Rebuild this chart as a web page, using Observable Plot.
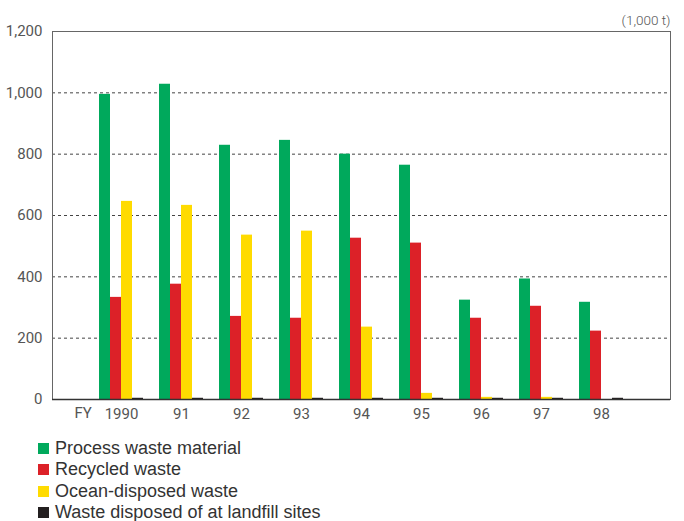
<!DOCTYPE html>
<html>
<head>
<meta charset="utf-8">
<script src="https://cdn.jsdelivr.net/npm/d3@7"></script>
<script src="https://cdn.jsdelivr.net/npm/@observablehq/plot@0.6"></script>
<style>
  html, body { margin: 0; padding: 0; background: #fff; }
  #chart { width: 684px; }
  .legend { margin: 8px 0 0 38px; font-family: "Liberation Sans", Arial, sans-serif; font-size: 18px; color: #333; }
  .legend div { height: 21.3px; display: flex; align-items: center; }
  .legend span.sw { width: 11px; height: 11px; margin-right: 6px; display: inline-block; flex: none; }
  .legend span.lb { line-height: 15px; }
</style>
</head>
<body>
<div id="chart"></div>
<script>
// Fiscal years (tick labels) and the four waste streams, in 1,000 t
const years = ["1990", "91", "92", "93", "94", "95", "96", "97", "98"];
const seriesNames = ["Process waste material", "Recycled waste", "Ocean-disposed waste", "Waste disposed of at landfill sites"];
const seriesColors = ["#00a95c", "#dc2128", "#ffdb00", "#231f20"];
const processWaste = [995, 1028, 829, 845, 800, 764, 324, 393, 317];
const recycledWaste = [333, 376, 271, 265, 526, 510, 265, 304, 223];
const oceanDisposed = [646, 633, 536, 549, 236, 20, 7, 7, 0];
const landfill = [4, 4, 4, 4, 4, 4, 4, 4, 4];
const yTicks = [0, 200, 400, 600, 800, 1000, 1200];

const seriesValues = [processWaste, recycledWaste, oceanDisposed, landfill];
const rows = seriesValues.map((vals, i) =>
  years.map((year, j) => ({year, value: vals[j], series: seriesNames[i]}))
);

const font = "Roboto, 'Liberation Sans', sans-serif";
const barW = 11;

const chart = Plot.plot({
  width: 684,
  height: 430,
  marginTop: 31,
  marginBottom: 31,
  marginLeft: 52,
  marginRight: 14,
  style: {fontFamily: font, fontSize: "15px", color: "#555", background: "#fff"},
  x: {domain: years, paddingInner: 0.267, paddingOuter: 0.783, label: null, axis: null},
  y: {domain: [0, 1200], label: null, axis: null},
  marks: [
    // horizontal dashed gridlines
    Plot.ruleY(yTicks.filter(d => d > 0 && d < 1200), {stroke: "#444", strokeDasharray: "3,3", strokeWidth: 1}),
    // one bar series per waste stream, side by side within each year band
    ...rows.map((data, i) =>
      Plot.barY(data, {
        x: "year", y: "value", fill: seriesColors[i],
        insetLeft: i * barW, insetRight: (3 - i) * barW
      })
    ),
    // surrounding box
    Plot.frame({stroke: "#666", strokeWidth: 1}),
    Plot.ruleX([0], {frameAnchor: "left", stroke: "#333", strokeWidth: 1.5}),
    Plot.ruleY([0], {stroke: "#333", strokeWidth: 1.5}),
    // y axis labels
    Plot.axisY(yTicks, {tickSize: 0, tickPadding: 10, tickFormat: d3.format(","), fill: "#555", fontSize: 15, label: null}),
    // x axis labels
    Plot.axisX({tickSize: 0, tickPadding: 9, fill: "#555", fontSize: 15, label: null}),
    // "FY" label to the left of the first year
    Plot.text(["FY"], {frameAnchor: "bottom-left", dx: 22, dy: 18, fill: "#555", fontSize: 15}),
    // unit note
    Plot.text(["(1,000 t)"], {frameAnchor: "top-right", dy: -16, textAnchor: "end", fill: "#555", fontSize: 13.5, fontWeight: 300})
  ]
});
document.getElementById("chart").appendChild(chart);

// legend below the chart
const legend = document.createElement("div");
legend.className = "legend";
seriesNames.forEach((name, i) => {
  const row = document.createElement("div");
  const sw = document.createElement("span");
  sw.className = "sw";
  sw.style.background = seriesColors[i];
  const lb = document.createElement("span");
  lb.className = "lb";
  lb.textContent = name;
  row.appendChild(sw);
  row.appendChild(lb);
  legend.appendChild(row);
});
document.getElementById("chart").appendChild(legend);
</script>
</body>
</html>
